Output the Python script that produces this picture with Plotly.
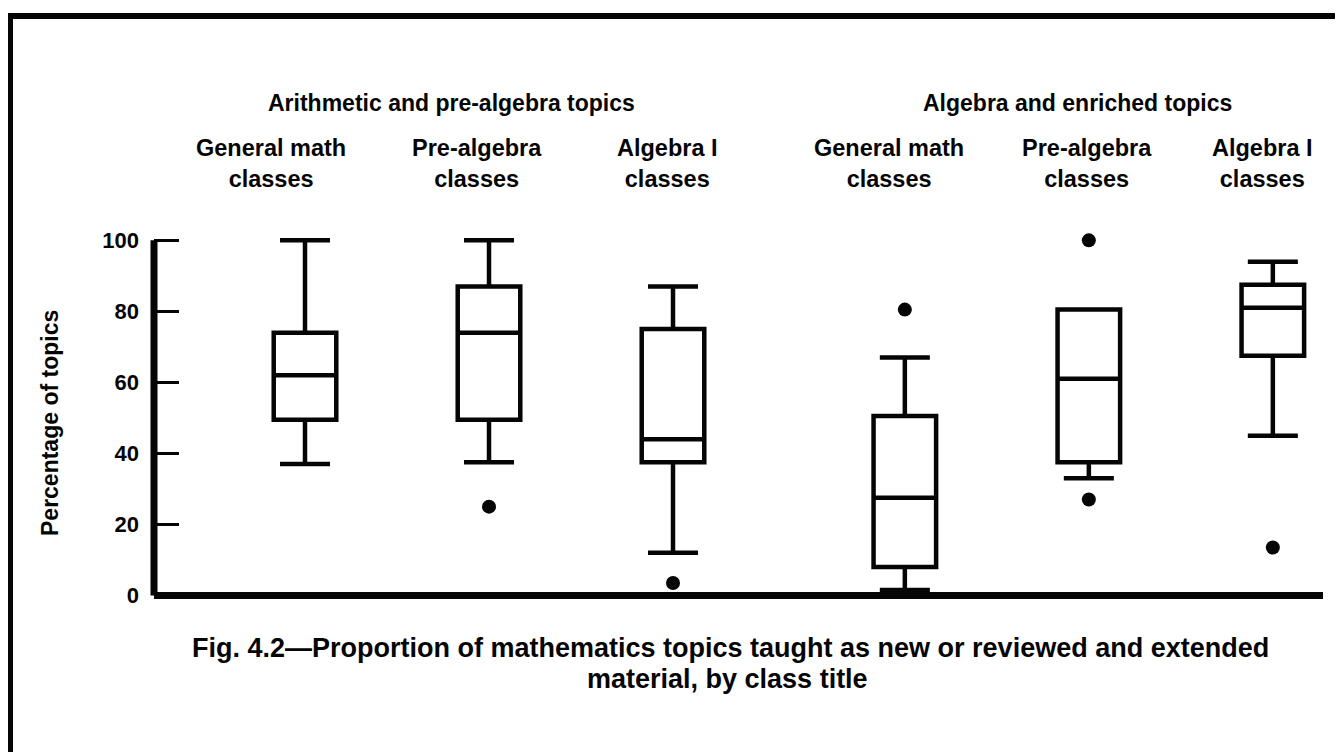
import plotly.graph_objects as go

# Figure 4.2 - share of topics taught as new / reviewed-and-extended
groups = ["Arithmetic and pre-algebra topics", "Algebra and enriched topics"]
classes = ["General math<br>classes", "Pre-algebra<br>classes", "Algebra I<br>classes"]

# box statistics, one entry per box (group 1 then group 2)
lower_fence = [37, 37.5, 12, 1.5, 33, 45]
q1 = [49.5, 49.5, 37.5, 8, 37.5, 67.5]
median = [62, 74, 44, 27.5, 61, 81]
q3 = [74, 87, 75, 50.5, 80.5, 87.5]
upper_fence = [100, 100, 87, 67, 80.5, 94]
outliers = [[], [25], [3.5], [80.5], [100, 27], [13.5]]

y_ticks = [0, 20, 40, 60, 80, 100]

caption_1 = "Fig. 4.2\u2014Proportion of mathematics topics taught as new or reviewed and extended"
caption_2 = "material, by class title"

# page coordinates (the html body adds an 8px margin around the figure)
PAGE_W, PAGE_H, BODY = 1343, 752, 8
PLOT_L, PLOT_R = 154, 1323
PLOT_T, PLOT_B = 235, 599
GROUP_GAP = 1.26
INK = "#050505"
FONT = "Liberation Sans, Arial, sans-serif"


def px_x(px):
    return (px - PLOT_L) / (PLOT_R - PLOT_L)


def px_y(py):
    return (PLOT_B - py) / (PLOT_B - PLOT_T)


# x position of each box: three per group, wider gap between the groups
positions = []
for g in range(len(groups)):
    for i in range(len(classes)):
        positions.append(g * (len(classes) - 1 + GROUP_GAP) + i)

fig = go.Figure()

fig.add_trace(
    go.Box(
        x=positions,
        q1=q1,
        median=median,
        q3=q3,
        lowerfence=lower_fence,
        upperfence=upper_fence,
        width=0.34,
        whiskerwidth=0.8,
        fillcolor="white",
        line=dict(color=INK, width=4.5),
        boxpoints=False,
        hoverinfo="skip",
    )
)

out_x, out_y = [], []
for pos, pts in zip(positions, outliers):
    for v in pts:
        out_x.append(pos)
        out_y.append(v)

fig.add_trace(
    go.Scatter(
        x=out_x,
        y=out_y,
        mode="markers",
        marker=dict(color=INK, size=14),
        cliponaxis=False,
        hoverinfo="skip",
    )
)

unit = 184
x_left = (PLOT_L - 305) / unit
x_right = (PLOT_R - 305) / unit

W, H = PAGE_W - BODY, PAGE_H - BODY
fig.update_layout(
    width=W,
    height=H,
    paper_bgcolor="white",
    plot_bgcolor="white",
    showlegend=False,
    font=dict(family=FONT, color=INK, size=23, weight="bold"),
    margin=dict(l=PLOT_L - BODY, r=W - (PLOT_R - BODY),
                t=PLOT_T - BODY, b=H - (PLOT_B - BODY)),
    xaxis=dict(
        range=[x_left, x_right],
        showgrid=False,
        zeroline=False,
        showline=False,
        showticklabels=False,
        ticks="",
    ),
    yaxis=dict(
        range=[-1, 101.5],
        tickvals=y_ticks,
        ticks="inside",
        ticklen=25,
        tickwidth=3,
        tickcolor=INK,
        ticklabelstandoff=14,
        tickfont=dict(size=22, weight="bold"),
        showgrid=False,
        zeroline=False,
        showline=False,
    ),
)

# axis lines: vertical one stops at 100
fig.add_shape(type="line", xref="paper", yref="y", x0=0, x1=0, y0=0, y1=100,
              line=dict(color=INK, width=7))
fig.add_shape(type="line", xref="paper", yref="y", x0=0, x1=1, y0=0, y1=0,
              line=dict(color=INK, width=7))

# page frame (top and left edges)
fig.add_shape(type="line", xref="paper", yref="paper",
              x0=px_x(7), x1=px_x(PAGE_W), y0=px_y(16), y1=px_y(16),
              line=dict(color=INK, width=6))
fig.add_shape(type="line", xref="paper", yref="paper",
              x0=px_x(10), x1=px_x(10), y0=px_y(13), y1=px_y(PAGE_H),
              line=dict(color=INK, width=6))


def label(text, cx, cy, size, angle=0):
    fig.add_annotation(text=text, xref="paper", yref="paper",
                       x=px_x(cx), y=px_y(cy), xanchor="center", yanchor="middle",
                       textangle=angle, showarrow=False,
                       font=dict(size=size, weight="bold"))


# group headers
for text, cx in zip(groups, [451, 1077]):
    label(text, cx, 103, 23)

# class labels above each box
label_centers = [271, 477, 667, 889, 1087, 1262]
for i, cx in enumerate(label_centers):
    label(classes[i % len(classes)], cx, 163, 23.5)

# y axis title
label("Percentage of topics", 50, 423, 23, angle=-90)

# caption
label(caption_1, 730, 648, 27)
label(caption_2, 727, 679, 27)

fig.write_html("out.html")
